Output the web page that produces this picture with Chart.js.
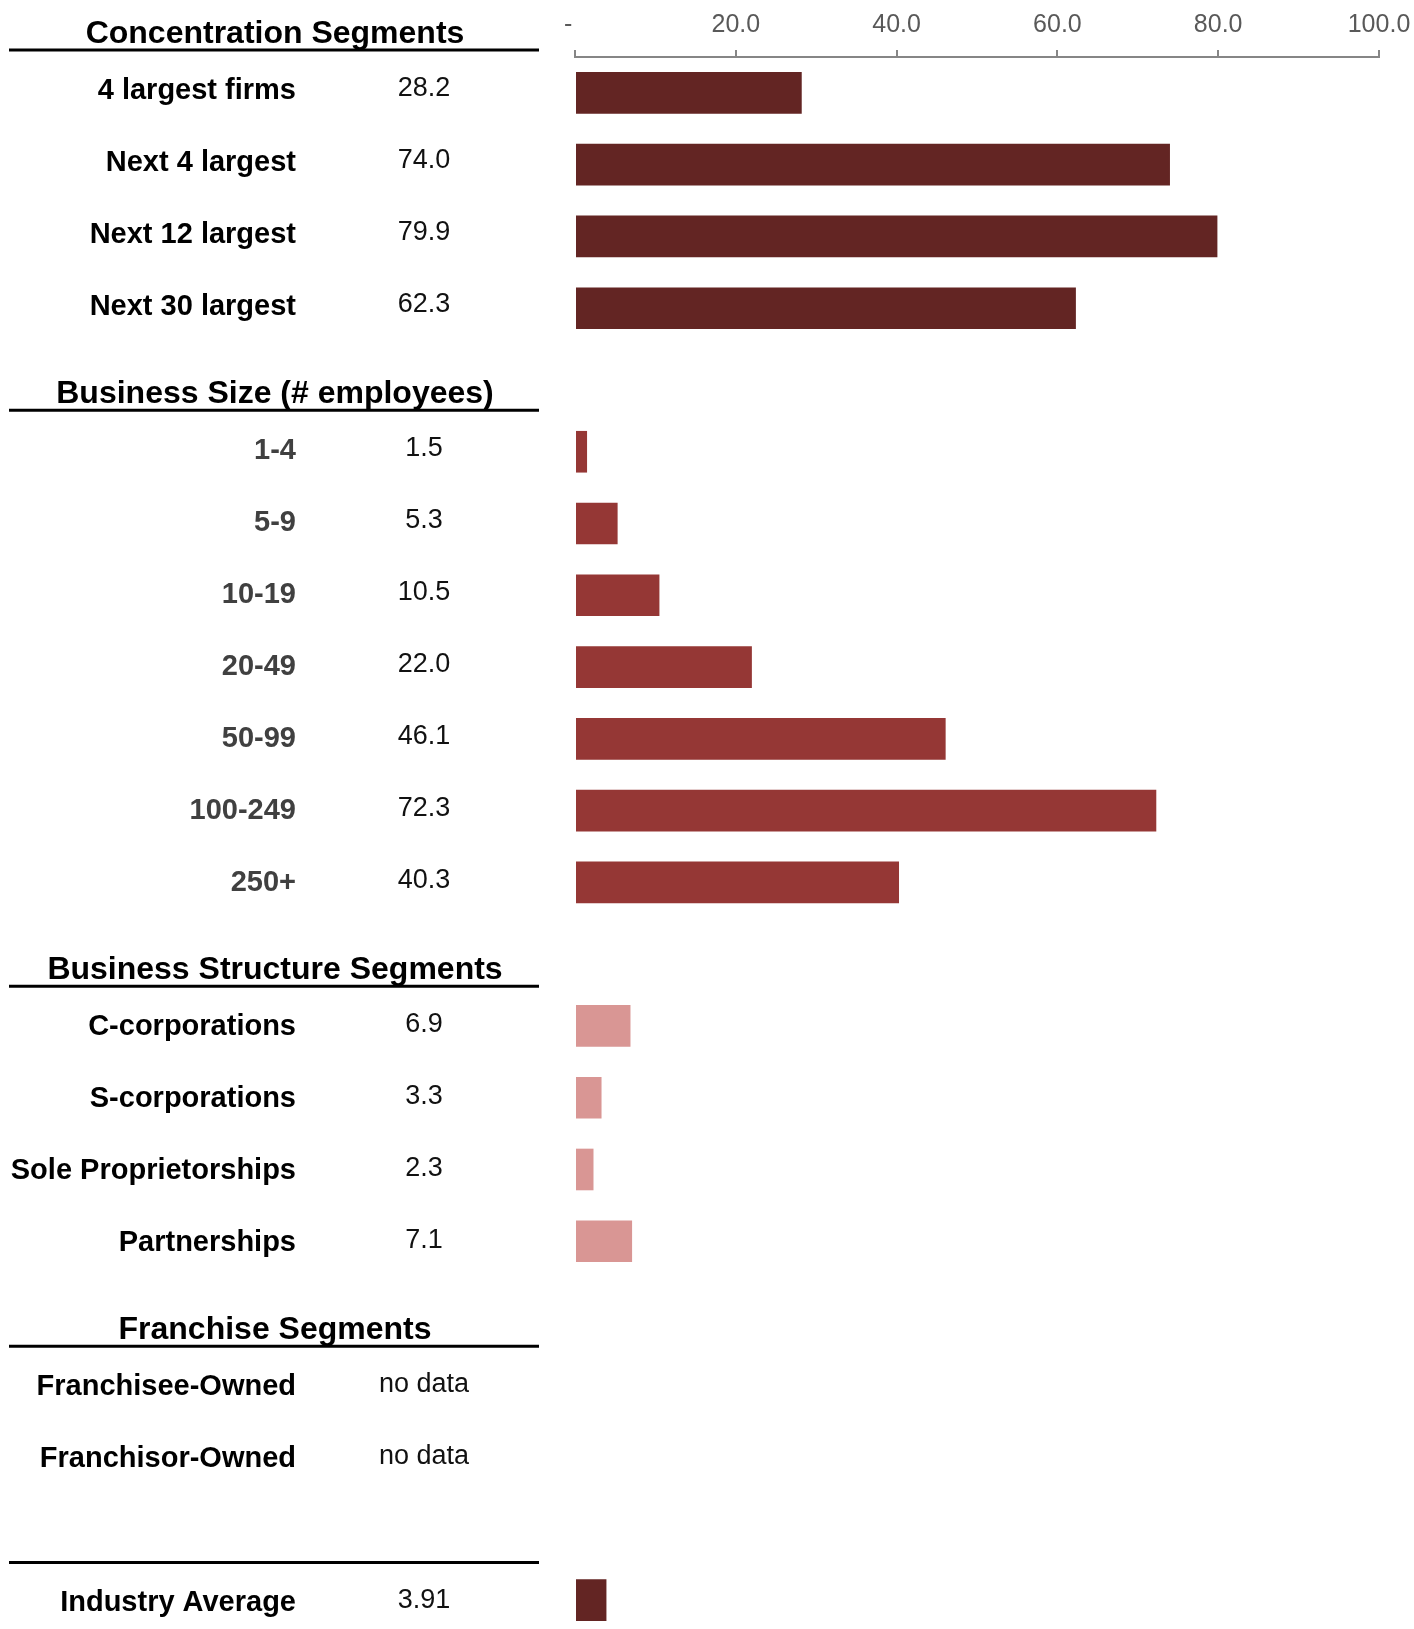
<!DOCTYPE html>
<html>
<head>
<meta charset="utf-8">
<title>Industry segments</title>
<script src="https://cdn.jsdelivr.net/npm/chart.js@4.4.1/dist/chart.umd.min.js"></script>
<style>
  html, body { margin: 0; padding: 0; background: #ffffff; overflow: hidden; }
  #wrap { position: relative; width: 1414px; height: 1640px; }
</style>
</head>
<body>
<div id="wrap"><canvas id="chart"></canvas></div>
<script>
// ---- data ----
const sectionTitles = ['Concentration Segments', 'Business Size (# employees)', 'Business Structure Segments', 'Franchise Segments'];

const concentrationLabels = ['4 largest firms', 'Next 4 largest', 'Next 12 largest', 'Next 30 largest'];
const concentrationValues = [28.2, 74.0, 79.9, 62.3];

const sizeLabels = ['1-4', '5-9', '10-19', '20-49', '50-99', '100-249', '250+'];
const sizeValues = [1.5, 5.3, 10.5, 22.0, 46.1, 72.3, 40.3];

const structureLabels = ['C-corporations', 'S-corporations', 'Sole Proprietorships', 'Partnerships'];
const structureValues = [6.9, 3.3, 2.3, 7.1];

const franchiseLabels = ['Franchisee-Owned', 'Franchisor-Owned'];
const franchiseValues = [null, null];

const averageLabel = 'Industry Average';
const averageValue = 3.91;

const axisTicks = [0, 20, 40, 60, 80, 100];

// ---- styling ----
const FONT = "'Liberation Sans', Arial, Helvetica, sans-serif";
const DARK = '#632523';
const MID = '#953735';
const LIGHT = '#D99694';

const sections = [
  { title: sectionTitles[0], labels: concentrationLabels, values: concentrationValues, color: DARK, text: '#000000' },
  { title: sectionTitles[1], labels: sizeLabels, values: sizeValues, color: MID, text: '#404040' },
  { title: sectionTitles[2], labels: structureLabels, values: structureValues, color: LIGHT, text: '#000000' },
  { title: sectionTitles[3], labels: franchiseLabels, values: franchiseValues, color: LIGHT, text: '#000000' }
];

// Flatten sections into chart rows; each later section gets a blank row for its heading.
const rows = [];
const headings = [];
sections.forEach((s, k) => {
  if (k === 0) {
    headings.push({ index: -1, title: s.title });
  } else {
    headings.push({ index: rows.length, title: s.title });
    rows.push({ key: 'h' + k, label: '', value: null, color: 'rgba(0,0,0,0)' });
  }
  s.labels.forEach((label, i) => {
    rows.push({ key: label, label, value: s.values[i], color: s.color, text: s.text, digits: 1, shown: true });
  });
});
headings.push({ index: rows.length, title: '' });
rows.push({ key: 'sep', label: '', value: null, color: 'rgba(0,0,0,0)' });
rows.push({ key: averageLabel, label: averageLabel, value: averageValue, color: DARK, text: '#000000', digits: 2, shown: true });

function formatValue(r) {
  return r.value === null ? 'no data' : r.value.toFixed(r.digits);
}

// Left-hand table: headings, rules, row labels and values, placed on the y scale rows.
const sideTable = {
  id: 'sideTable',
  afterDraw(chart) {
    const ctx = chart.ctx;
    const y = chart.scales.y;
    const step = y.getPixelForValue(1) - y.getPixelForValue(0);
    const rowY = i => y.getPixelForValue(0) + i * step;
    const drift = i => 0.24 * (i + 1);
    ctx.save();

    headings.forEach(h => {
      const lineY = rowY(h.index) + 29 + drift(h.index);
      ctx.strokeStyle = '#000000';
      ctx.lineWidth = 3;
      ctx.beginPath();
      ctx.moveTo(9, lineY);
      ctx.lineTo(539, lineY);
      ctx.stroke();
      if (h.title) {
        ctx.fillStyle = '#000000';
        ctx.font = 'bold 32px ' + FONT;
        ctx.textAlign = 'center';
        ctx.textBaseline = 'alphabetic';
        ctx.fillText(h.title, 275, lineY - 7);
      }
    });

    rows.forEach((r, i) => {
      if (!r.shown) return;
      const c = rowY(i) + drift(i);
      ctx.fillStyle = r.text;
      ctx.font = 'bold 29px ' + FONT;
      ctx.textAlign = 'right';
      ctx.textBaseline = 'alphabetic';
      ctx.fillText(r.label, 296, c + 5.7);

      ctx.fillStyle = '#111111';
      ctx.font = '27px ' + FONT;
      ctx.textAlign = 'center';
      ctx.fillText(formatValue(r), 424, c + 2.5);
    });
    ctx.restore();
  }
};

Chart.defaults.font.family = FONT;

new Chart(document.getElementById('chart'), {
  type: 'bar',
  data: {
    labels: rows.map(r => r.key),
    datasets: [{
      data: rows.map(r => r.value),
      backgroundColor: rows.map(r => r.color),
      borderWidth: 0,
      categoryPercentage: 1,
      barPercentage: 0.58
    }]
  },
  options: {
    indexAxis: 'y',
    responsive: true,
    maintainAspectRatio: false,
    animation: false,
    layout: { padding: { left: 575, right: 35, top: 0, bottom: 4 } },
    plugins: { legend: { display: false }, tooltip: { enabled: false } },
    scales: {
      x: {
        position: 'top',
        min: axisTicks[0],
        max: axisTicks[axisTicks.length - 1],
        afterBuildTicks(scale) { scale.ticks = axisTicks.map(v => ({ value: v })); },
        afterFit(scale) {
          scale.height = 57;
          scale.paddingLeft = 0;
          scale.paddingRight = 0;
        },
        ticks: {
          color: '#595959',
          font: { size: 25 },
          padding: 10,
          callback: v => (v === 0 ? '-  ' : v.toFixed(1))
        },
        grid: { drawOnChartArea: false, drawTicks: true, tickLength: 7, color: '#868686', lineWidth: 2 },
        border: { display: true, color: '#868686', width: 2 }
      },
      y: { display: false }
    }
  },
  plugins: [sideTable]
});
</script>
</body>
</html>
